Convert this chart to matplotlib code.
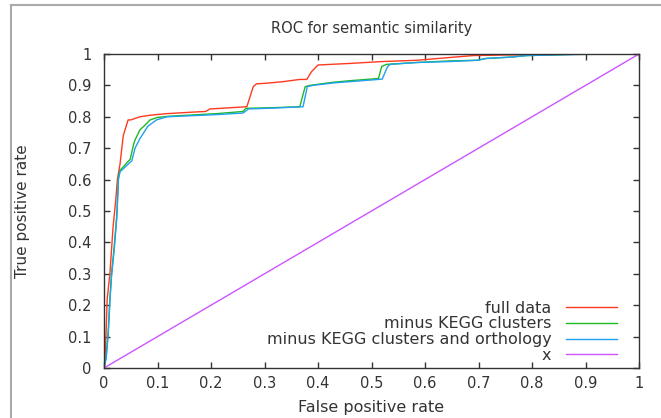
import matplotlib
matplotlib.use("Agg")
import matplotlib.pyplot as plt
from matplotlib.lines import Line2D
import numpy as np

# ROC curves
fpr_full = [0, 0.002, 0.004, 0.006, 0.011, 0.014, 0.017, 0.022, 0.025, 0.030, 0.036, 0.045,
            0.050, 0.067, 0.086, 0.117, 0.167, 0.19, 0.198, 0.267, 0.279, 0.285, 0.304, 0.335,
            0.366, 0.379, 0.388, 0.40, 0.46, 0.52, 0.585, 0.647, 0.69, 0.753, 0.827, 0.85]
tpr_full = [0, 0.035, 0.12, 0.22, 0.30, 0.375, 0.45, 0.535, 0.60, 0.65, 0.74, 0.79,
            0.79, 0.80, 0.805, 0.81, 0.815, 0.817, 0.825, 0.832, 0.896, 0.905, 0.907, 0.912,
            0.919, 0.919, 0.944, 0.965, 0.97, 0.976, 0.98, 0.989, 0.995, 0.997, 0.997, 1.0]

fpr_kegg = [0, 0.004, 0.008, 0.011, 0.014, 0.019, 0.024, 0.027, 0.030, 0.033, 0.049, 0.055,
            0.058, 0.067, 0.077, 0.086, 0.10, 0.123, 0.21, 0.26, 0.265, 0.316, 0.366, 0.376,
            0.385, 0.428, 0.46, 0.513, 0.519, 0.528, 0.585, 0.647, 0.697, 0.715, 0.76, 0.79, 0.9]
tpr_kegg = [0, 0.035, 0.12, 0.22, 0.30, 0.385, 0.49, 0.61, 0.63, 0.635, 0.665, 0.71,
            0.726, 0.758, 0.774, 0.79, 0.798, 0.802, 0.81, 0.817, 0.827, 0.829, 0.832, 0.896,
            0.90, 0.91, 0.915, 0.922, 0.96, 0.967, 0.973, 0.978, 0.98, 0.986, 0.99, 0.995, 1.0]

fpr_orth = [0, 0.004, 0.008, 0.011, 0.014, 0.019, 0.024, 0.027, 0.030, 0.052, 0.058, 0.067,
            0.082, 0.098, 0.117, 0.21, 0.26, 0.27, 0.32, 0.372, 0.38, 0.39, 0.43, 0.46,
            0.52, 0.53, 0.535, 0.585, 0.647, 0.697, 0.715, 0.76, 0.79, 0.927]
tpr_orth = [0, 0.03, 0.11, 0.21, 0.29, 0.375, 0.48, 0.60, 0.625, 0.66, 0.70, 0.73,
            0.77, 0.79, 0.80, 0.807, 0.812, 0.825, 0.828, 0.832, 0.896, 0.90, 0.908, 0.912,
            0.92, 0.96, 0.967, 0.973, 0.976, 0.98, 0.986, 0.99, 0.995, 1.0]

diag = [0, 1]

labels = ["full data", "minus KEGG clusters",
          "minus KEGG clusters and orthology", "x"]
colors = ["#ff3a20", "#20b820", "#20a0f0", "#cc55ff"]
ticks = np.round(np.arange(0, 1.01, 0.1), 1)
tick_labels = ["0" if t == 0 else ("1" if t == 1 else f"{t:g}") for t in ticks]

plt.rcParams['font.family'] = ['DejaVu Sans']
fig = plt.figure(figsize=(6.61, 4.18), dpi=100)
ax = fig.add_axes([104 / 661, 50 / 418, 535 / 661, 314 / 418])

ax.plot(fpr_full, tpr_full, color=colors[0], lw=1.0, label=labels[0])
ax.plot(fpr_kegg, tpr_kegg, color=colors[1], lw=1.0, label=labels[1])
ax.plot(fpr_orth, tpr_orth, color=colors[2], lw=1.0, label=labels[2])
ax.plot(diag, diag, color=colors[3], lw=1.0, label=labels[3])

ax.set_xlim(0, 1)
ax.set_ylim(0, 1)
ax.set_xticks(ticks)
ax.set_xticklabels(tick_labels)
ax.set_yticks(ticks)
ax.set_yticklabels(tick_labels)
ax.tick_params(direction="in", length=4, width=1, color="#333333",
               top=True, right=True, labelsize=10.5, labelcolor="#333333")
ax.tick_params(axis="y", pad=9)
ax.tick_params(axis="x", pad=6)
for s in ax.spines.values():
    s.set_color("#333333")
    s.set_linewidth(1.0)

ax.set_title("ROC for semantic similarity", fontsize=10.5, color="#333333", pad=15)
ax.set_xlabel("False positive rate", fontsize=11.5, color="#333333", labelpad=6)
ax.set_ylabel("True positive rate", fontsize=11, color="#333333")
ax.yaxis.set_label_coords(-0.138, 0.5)

leg = ax.legend(loc="lower right", bbox_to_anchor=(617 / 661, 55 / 418),
                bbox_transform=fig.transFigure, frameon=False, markerfirst=False,
                fontsize=11.5, handlelength=3.2, handletextpad=0.9, labelspacing=0.05,
                borderpad=0, borderaxespad=0)
for t in leg.get_texts():
    t.set_color("#333333")

# grey frame of the original screenshot
fig.add_artist(Line2D([11 / 661, 1], [1 - 5 / 418, 1 - 5 / 418],
                      transform=fig.transFigure, color="#aaaaaa", lw=1.5))
fig.add_artist(Line2D([11 / 661, 11 / 661], [0, 1 - 5 / 418],
                      transform=fig.transFigure, color="#aaaaaa", lw=1.5))

fig.savefig("out.png", dpi=100)
